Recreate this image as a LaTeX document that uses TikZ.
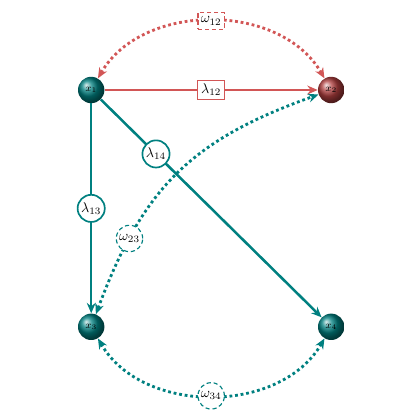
\documentclass[tikz,border=0pt]{standalone}
\usetikzlibrary{arrows.meta}
\definecolor{edgered}{RGB}{210,86,86}
\definecolor{ballred}{RGB}{175,62,62}
\definecolor{edgeteal}{RGB}{0,128,128}

\begin{document}
\begin{tikzpicture}[
    ball/.style={circle,shading=ball,minimum size=0.66cm,inner sep=0pt,font=\scriptsize,text=black},
    lamedge/.style={line width=1.8pt,-{Stealth[length=2.6mm,width=2.2mm]}},
    omgedge/.style={line width=2pt,dotted,{Stealth[length=2.6mm,width=2.2mm]}-{Stealth[length=2.6mm,width=2.2mm]}},
    lamrect/.style={rectangle,draw=edgered,solid,fill=white,text=black,line width=1pt,inner sep=2.5pt,minimum height=0.46cm},
    lamcirc/.style={circle,draw=edgeteal,solid,fill=white,text=black,line width=1.2pt,inner sep=1pt,minimum size=0.66cm},
    omgrect/.style={rectangle,draw=edgered,densely dashed,fill=white,text=black,line width=0.8pt,inner sep=2pt,minimum height=0.42cm},
    omgcirc/.style={circle,draw=edgeteal,densely dashed,fill=white,text=black,line width=0.8pt,inner sep=1pt,minimum size=0.66cm}
]
\useasboundingbox (0,0) rectangle (10.5,10.5);

% states
\node[ball,ball color=edgeteal] (x1) at (2.28,8.25) {$x_1$};
\node[ball,ball color=ballred]  (x2) at (8.28,8.25) {$x_2$};
\node[ball,ball color=edgeteal] (x3) at (2.28,2.33) {$x_3$};
\node[ball,ball color=edgeteal] (x4) at (8.28,2.33) {$x_4$};

% rates
\draw[lamedge,edgered] (x1) -- node[lamrect] {$\lambda_{12}$} (x2);
\draw[lamedge,edgeteal] (x1) -- node[lamcirc] {$\lambda_{13}$} (x3);
\draw[lamedge,edgeteal] (x1) -- node[lamcirc,pos=0.25] {$\lambda_{14}$} (x4);

% couplings
\draw[omgedge,edgered] (x1) to[bend left=60] node[omgrect] {$\omega_{12}$} (x2);
\draw[omgedge,edgeteal] (x3) to[bend left=25,looseness=1.1] node[omgcirc,pos=0.23] {$\omega_{23}$} (x2);
\draw[omgedge,edgeteal] (x3) to[bend right=60] node[omgcirc] {$\omega_{34}$} (x4);
\end{tikzpicture}
\end{document}
